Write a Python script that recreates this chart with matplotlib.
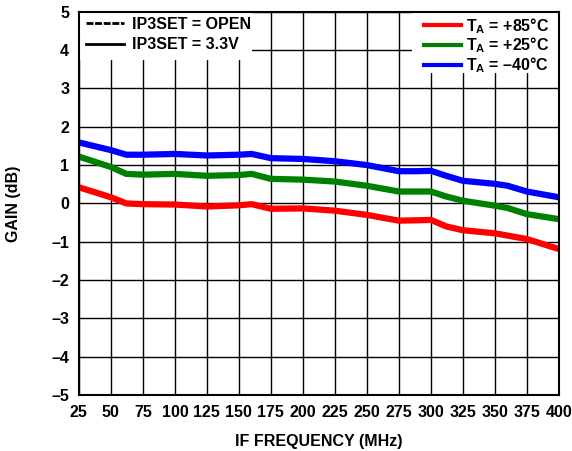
import matplotlib
matplotlib.use('Agg')
import matplotlib.pyplot as plt
from matplotlib.lines import Line2D
from matplotlib.patches import Rectangle
from matplotlib.ticker import FuncFormatter

plt.rcParams['font.family'] = ['Liberation Sans', 'DejaVu Sans']
plt.rcParams['font.weight'] = 'bold'
plt.rcParams['mathtext.fontset'] = 'custom'
plt.rcParams['mathtext.rm'] = 'Liberation Sans:bold'
plt.rcParams['mathtext.it'] = 'Liberation Sans:bold'
plt.rcParams['mathtext.bf'] = 'Liberation Sans:bold'

# IF frequency (MHz)
freq = [25, 50, 62, 75, 100, 125, 150, 160, 175, 200, 225, 250, 275, 290,
        300, 312, 325, 350, 360, 375, 400]

# gain (dB) per temperature
gain_85 = [0.42, 0.16, 0.0, -0.02, -0.03, -0.08, -0.05, -0.02, -0.14, -0.13,
           -0.19, -0.30, -0.45, -0.44, -0.43, -0.60, -0.70, -0.78, -0.84, -0.93, -1.19]
gain_25 = [1.22, 0.95, 0.77, 0.75, 0.77, 0.72, 0.74, 0.77, 0.64, 0.62,
           0.57, 0.46, 0.31, 0.31, 0.31, 0.18, 0.07, -0.06, -0.12, -0.28, -0.41]
gain_m40 = [1.59, 1.39, 1.27, 1.27, 1.29, 1.25, 1.27, 1.29, 1.18, 1.16,
            1.10, 1.00, 0.84, 0.84, 0.85, 0.72, 0.59, 0.51, 0.46, 0.31, 0.16]

temp_labels = [r'T$_\mathrm{A}$ = +85°C', r'T$_\mathrm{A}$ = +25°C',
               r'T$_\mathrm{A}$ = –40°C']
set_labels = ['IP3SET = OPEN', 'IP3SET = 3.3V']
colors = ['#ff0000', '#008000', '#0000ff']

FS = 11.5

fig = plt.figure(figsize=(5.72, 4.51), dpi=100)
ax = fig.add_axes([0.138, 0.124, 0.839, 0.850])

for g, c in zip([gain_85, gain_25, gain_m40], colors):
    ax.plot(freq, g, color=c, lw=4.5, zorder=3,
            solid_joinstyle='round', solid_capstyle='butt')

ax.set_xlim(25, 400)
ax.set_ylim(-5, 5)
ax.set_xticks(range(25, 401, 25))
ax.set_yticks(range(-5, 6))
ax.yaxis.set_major_formatter(FuncFormatter(lambda v, p: f'{int(v)}'.replace('-', '–')))
ax.grid(True, color='black', lw=1.0, zorder=1)
ax.set_axisbelow(True)
ax.tick_params(length=0, labelsize=FS, pad=7)
for s in ax.spines.values():
    s.set_linewidth(1.5)
    s.set_zorder(4)

ax.set_xlabel('IF FREQUENCY (MHz)', fontsize=FS, fontweight='bold', labelpad=10)
ax.set_ylabel('GAIN (dB)', fontsize=FS, fontweight='bold', labelpad=22)

# white boxes behind legends
ax.add_patch(Rectangle((0.0, 0.875), 0.36, 0.125, transform=ax.transAxes,
                       facecolor='white', edgecolor='none', zorder=2))
ax.add_patch(Rectangle((0.695, 0.84), 0.305, 0.16, transform=ax.transAxes,
                       facecolor='white', edgecolor='none', zorder=2))

h1 = [Line2D([], [], color='black', lw=2, linestyle=(0, (2.5, 0.6))),
      Line2D([], [], color='black', lw=2)]
leg1 = ax.legend(h1, set_labels, loc='upper left', bbox_to_anchor=(0.008, 0.995),
                 frameon=False, fontsize=FS, handlelength=2.4,
                 handletextpad=0.5, labelspacing=0.35, borderpad=0.2,
                 borderaxespad=0.0)
ax.add_artist(leg1)
leg1.set_zorder(5)

h2 = [Line2D([], [], color=c, lw=3) for c in colors]
leg2 = ax.legend(h2, temp_labels, loc='upper right', bbox_to_anchor=(0.985, 0.995),
                 frameon=False, fontsize=FS, handlelength=2.3,
                 handletextpad=0.3, labelspacing=0.0, borderpad=0.15,
                 borderaxespad=0.0)
leg2.set_zorder(5)

fig.savefig('out.png', dpi=100)
